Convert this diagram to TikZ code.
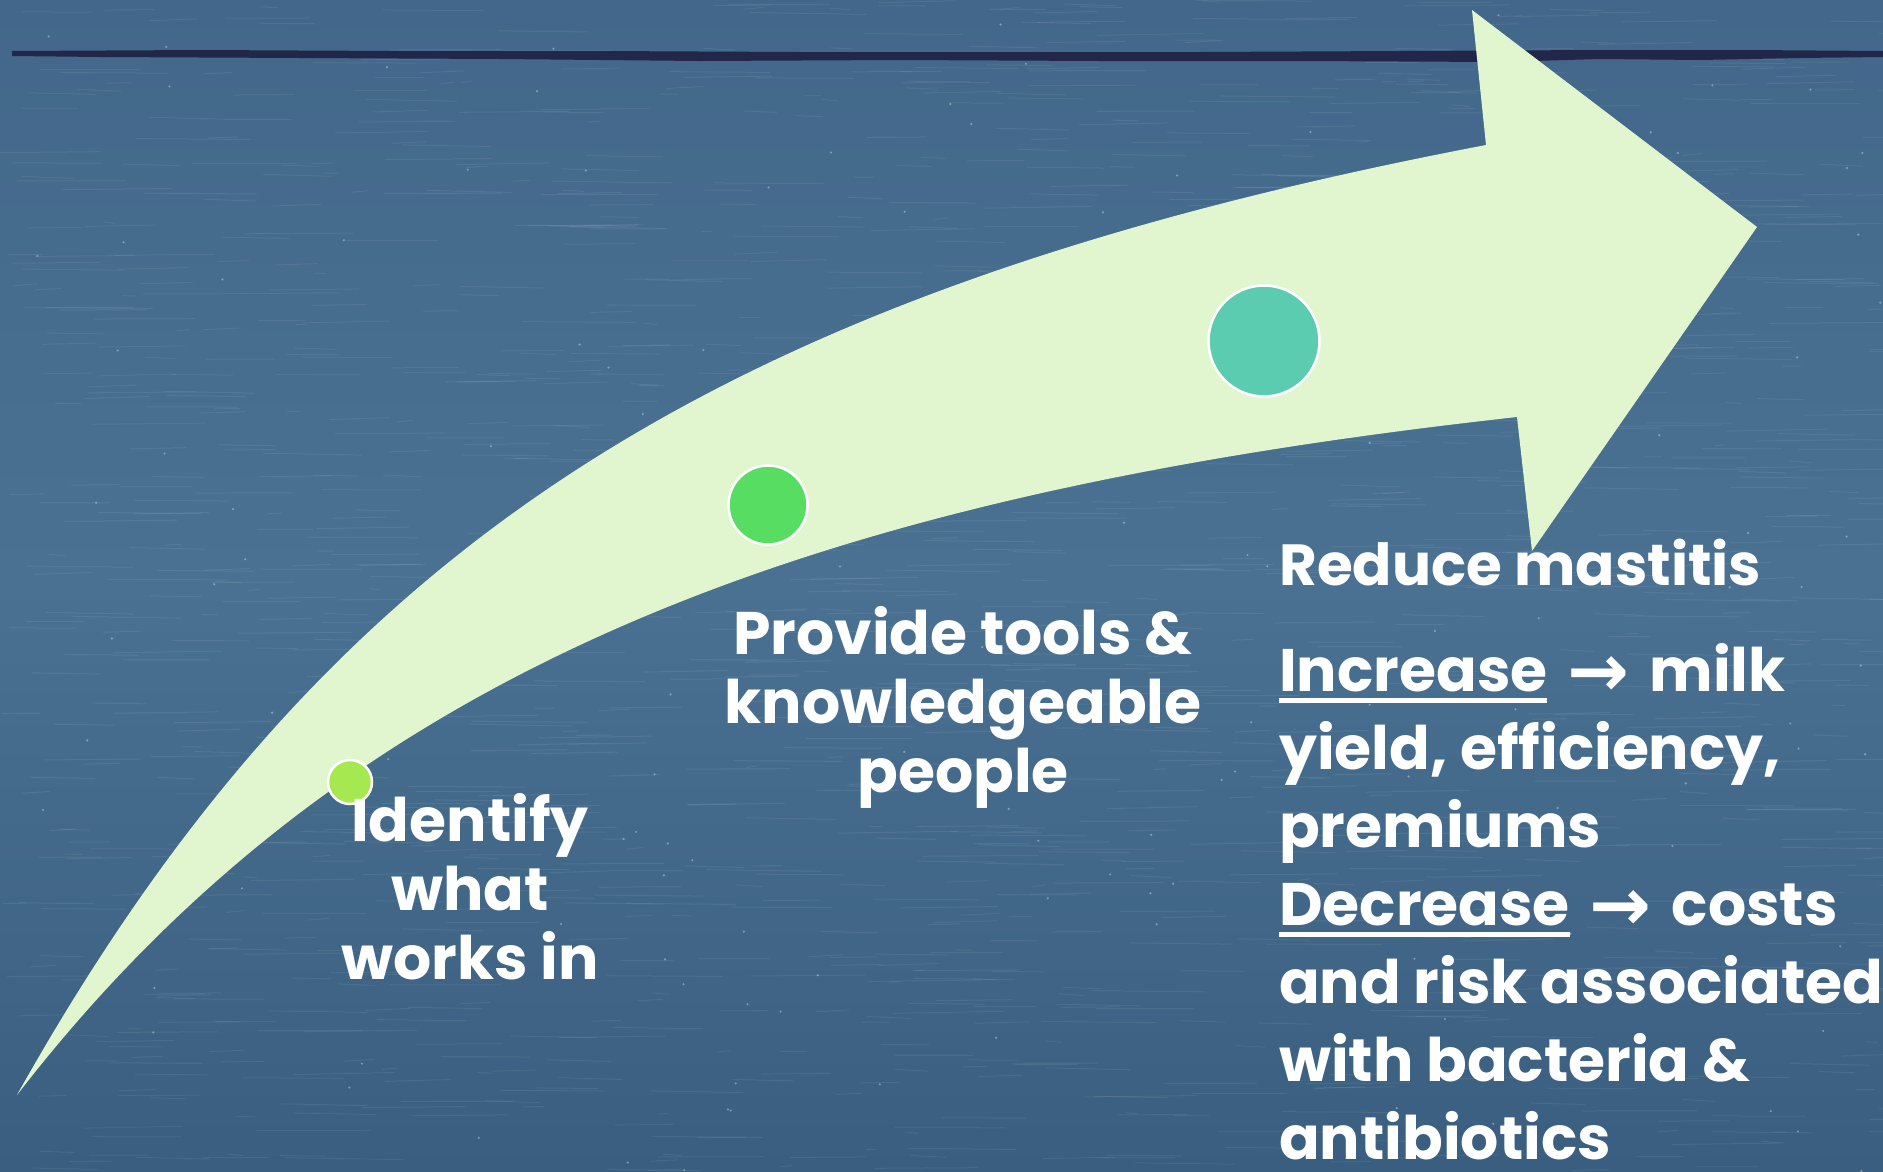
\documentclass[tikz,border=0pt]{standalone}
\usepackage{fontspec}
\setmainfont{Poppins}
\newfontfamily\arrowfont{DejaVu Sans}
\definecolor{boardtop}{HTML}{42678A}
\definecolor{boardmid}{HTML}{4A7192}
\definecolor{boardlow}{HTML}{3A5E7F}
\definecolor{chalkline}{HTML}{22274A}
\definecolor{arrowgreen}{HTML}{E1F6CF}
\definecolor{dotlime}{HTML}{A6E84F}
\definecolor{dotgreen}{HTML}{57DD62}
\definecolor{dotteal}{HTML}{5BCCB0}
% underline with a heavy rule
\newcommand\heavyul[1]{\setbox0\hbox{#1}\rlap{\rule[-12pt]{\wd0}{5pt}}\box0\relax}
% a larger arrow with some room on both sides
\newcommand\rarr{\hspace{20pt}\raisebox{-5pt}{\arrowfont\bfseries\fontsize{74}{80}\selectfont →}\hspace{20pt}}
\tikzset{
  stepdot/.style={circle, draw=white, line width=2.5pt, inner sep=0pt},
  steptext/.style={text=white, font=\bfseries\fontsize{60}{69}\selectfont, inner sep=0pt, align=center},
  goaltext/.style={text=white, font=\bfseries\fontsize{60}{78}\selectfont, inner sep=0pt, align=left},
}
\begin{document}
\begin{tikzpicture}[x=1pt,y=-1pt]
\useasboundingbox (0,0) rectangle (1883,1171);
% chalkboard
\shade[top color=boardtop, bottom color=boardlow, middle color=boardmid] (0,0) rectangle (1883,1171);
\pgfmathsetseed{7}
\foreach \i in {1,...,1400}{
  \pgfmathsetmacro\xa{rnd*1883}
  \pgfmathsetmacro\ya{rnd*1171}
  \pgfmathsetmacro\len{10+rnd*110}
  \draw[white, opacity=0.07, line width=1pt] (\xa,\ya) -- ++(\len,{rnd*4-2});
}
\foreach \i in {1,...,160}{
  \pgfmathsetmacro\xa{rnd*1883}
  \pgfmathsetmacro\ya{rnd*1171}
  \fill[white, opacity=0.35] (\xa,\ya) circle (1.2pt);
}
% chalk rule across the top
\fill[chalkline] (12,51) -- (200,50) -- (400,51) -- (600,51) -- (800,52) -- (1000,52)
  -- (1200,52) -- (1400,51) -- (1600,50) -- (1750,50) -- (1883,51)
  -- (1883,57) -- (1800,58) -- (1700,60) -- (1600,59) -- (1500,62) -- (1300,61)
  -- (1100,61) -- (900,60) -- (700,61) -- (500,59) -- (300,58)
  -- (100,57) -- (12,56) -- cycle;
% curved arrow
\fill[arrowgreen]
  (17,1095) .. controls (320,555) and (700,295) .. (1486,145)
  -- (1472,10) -- (1757,227) -- (1532,551) -- (1517,417)
  .. controls (821,494) and (353,660) .. (17,1095) -- cycle;
% milestones
\node[stepdot, fill=dotlime, minimum size=44pt] (d1) at (350,782) {};
\node[stepdot, fill=dotgreen, minimum size=79pt] (d2) at (768,505) {};
\node[stepdot, fill=dotteal, minimum size=111pt] (d3) at (1264,341) {};
% labels
\node[steptext, anchor=base] (t1) at (470,979) {Identify\\what\\works in};
\node[steptext, anchor=base] (t2) at (963,792) {Provide tools \&\\knowledgeable\\people};
\node[goaltext, font=\bfseries\fontsize{58}{78}\selectfont, anchor=base west] (t3) at (1279,585) {Reduce mastitis};
\node[goaltext, anchor=base west] (t4) at (1279,1159) {\heavyul{Increase}\rarr milk\\yield, efficiency,\\premiums\\\heavyul{Decrease}\rarr costs\\and risk associated\\with bacteria \&\\antibiotics};
\end{tikzpicture}
\end{document}
